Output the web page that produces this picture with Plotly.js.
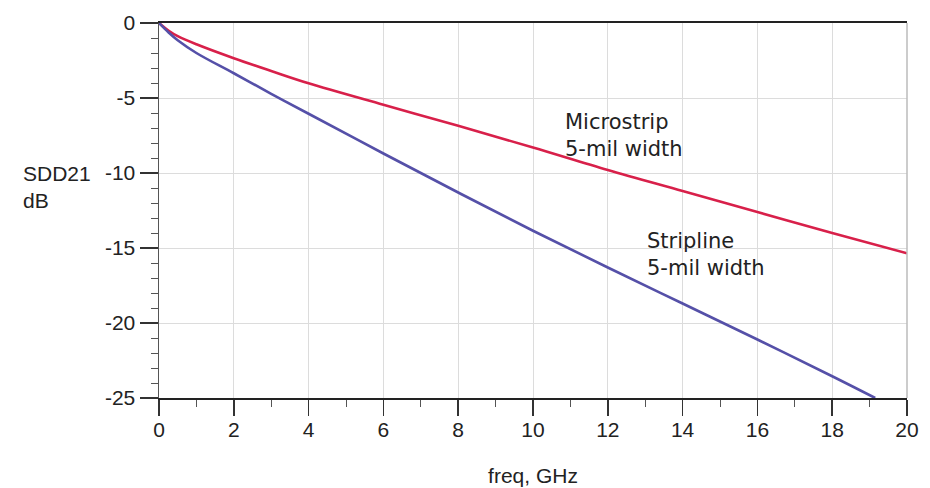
<!DOCTYPE html>
<html>
<head>
<meta charset="utf-8">
<script src="https://cdn.plot.ly/plotly-3.0.1.min.js"></script>
<style>html,body{margin:0;padding:0;background:#fff;}#chart{width:930px;height:488px;}</style>
</head>
<body>
<div id="chart"></div>
<script>
// Frequency points (GHz) and SDD21 (dB)
const freqMicro = [0, 0.25, 0.5, 1, 2, 3, 4, 6, 8, 10, 12, 14, 16, 18, 20];
const sdd21Micro = [0, -0.5, -0.88, -1.42, -2.35, -3.2, -4.02, -5.45, -6.85, -8.3, -9.8, -11.2, -12.6, -14.0, -15.35];
const freqStrip = [0, 0.25, 0.5, 1, 2, 3, 4, 6, 8, 10, 12, 14, 16, 18, 19.15];
const sdd21Strip = [0, -0.62, -1.15, -2.0, -3.35, -4.72, -6.05, -8.7, -11.3, -13.85, -16.3, -18.7, -21.1, -23.55, -25];

const xTickVals = [0, 2, 4, 6, 8, 10, 12, 14, 16, 18, 20];
const xTickText = ['0', '2', '4', '6', '8', '10', '12', '14', '16', '18', '20'];
const yTickVals = [0, -5, -10, -15, -20, -25];
const yTickText = ['0', '-5', '-10', '-15', '-20', '-25'];

const labelMicro = 'Microstrip<br>5-mil width';
const labelStrip = 'Stripline<br>5-mil width';
const labelMicroPos = [10.81, -7.48];
const labelStripPos = [12.99, -15.4];

const traces = [
  {x: freqMicro, y: sdd21Micro, type: 'scatter', mode: 'lines', line: {color: '#d8204a', width: 2.6, shape: 'spline', smoothing: 1}, hoverinfo: 'skip'},
  {x: freqStrip, y: sdd21Strip, type: 'scatter', mode: 'lines', line: {color: '#5550a8', width: 2.6, shape: 'spline', smoothing: 1}, hoverinfo: 'skip'}
];

const tickFont = {family: 'Liberation Sans, Arial, sans-serif', size: 21, color: '#222'};
const layout = {
  width: 930, height: 488,
  margin: {l: 159, r: 23, t: 23, b: 90, pad: 0},
  paper_bgcolor: '#fff', plot_bgcolor: '#fff',
  showlegend: false,
  xaxis: {
    range: [0, 20], tickvals: xTickVals, ticktext: xTickText,
    ticks: 'outside', ticklen: 16, tickwidth: 1.5, tickcolor: '#333',
    ticklabelstandoff: -4,
    minor: {dtick: 1, ticks: 'outside', ticklen: 7, tickwidth: 1, tickcolor: '#555', showgrid: false},
    showgrid: true, gridcolor: '#dcdcdc', gridwidth: 1,
    showline: true, linecolor: '#222', linewidth: 2, mirror: true,
    zeroline: false, tickfont: tickFont,
    title: {text: 'freq, GHz', font: tickFont, standoff: 28}
  },
  yaxis: {
    range: [-25, 0], tickvals: yTickVals, ticktext: yTickText,
    ticks: 'outside', ticklen: 18, tickwidth: 1.5, tickcolor: '#333',
    minor: {dtick: 1, ticks: 'outside', ticklen: 7, tickwidth: 1, tickcolor: '#555', showgrid: false},
    showgrid: true, gridcolor: '#dcdcdc', gridwidth: 1,
    showline: true, linecolor: '#555', linewidth: 1.5,
    zeroline: false, tickfont: tickFont
  },
  shapes: [
    {type: 'line', xref: 'paper', yref: 'paper', x0: 1, x1: 1, y0: 0, y1: 1, line: {color: '#bbb', width: 1.5}}
  ],
  annotations: [
    {text: 'SDD21<br>dB', xref: 'paper', yref: 'paper', x: -0.185, y: 0.564, xanchor: 'left', yanchor: 'middle', align: 'left', showarrow: false, font: {family: 'Liberation Sans, Arial, sans-serif', size: 21, color: '#222'}},
    {text: labelMicro, x: labelMicroPos[0], y: labelMicroPos[1], xanchor: 'left', yanchor: 'middle', align: 'left', showarrow: false, font: {family: 'DejaVu Sans, sans-serif', size: 21, color: '#222'}},
    {text: labelStrip, x: labelStripPos[0], y: labelStripPos[1], xanchor: 'left', yanchor: 'middle', align: 'left', showarrow: false, font: {family: 'DejaVu Sans, sans-serif', size: 21, color: '#222'}}
  ]
};

Plotly.newPlot('chart', traces, layout, {staticPlot: true, displayModeBar: false});
</script>
</body>
</html>
